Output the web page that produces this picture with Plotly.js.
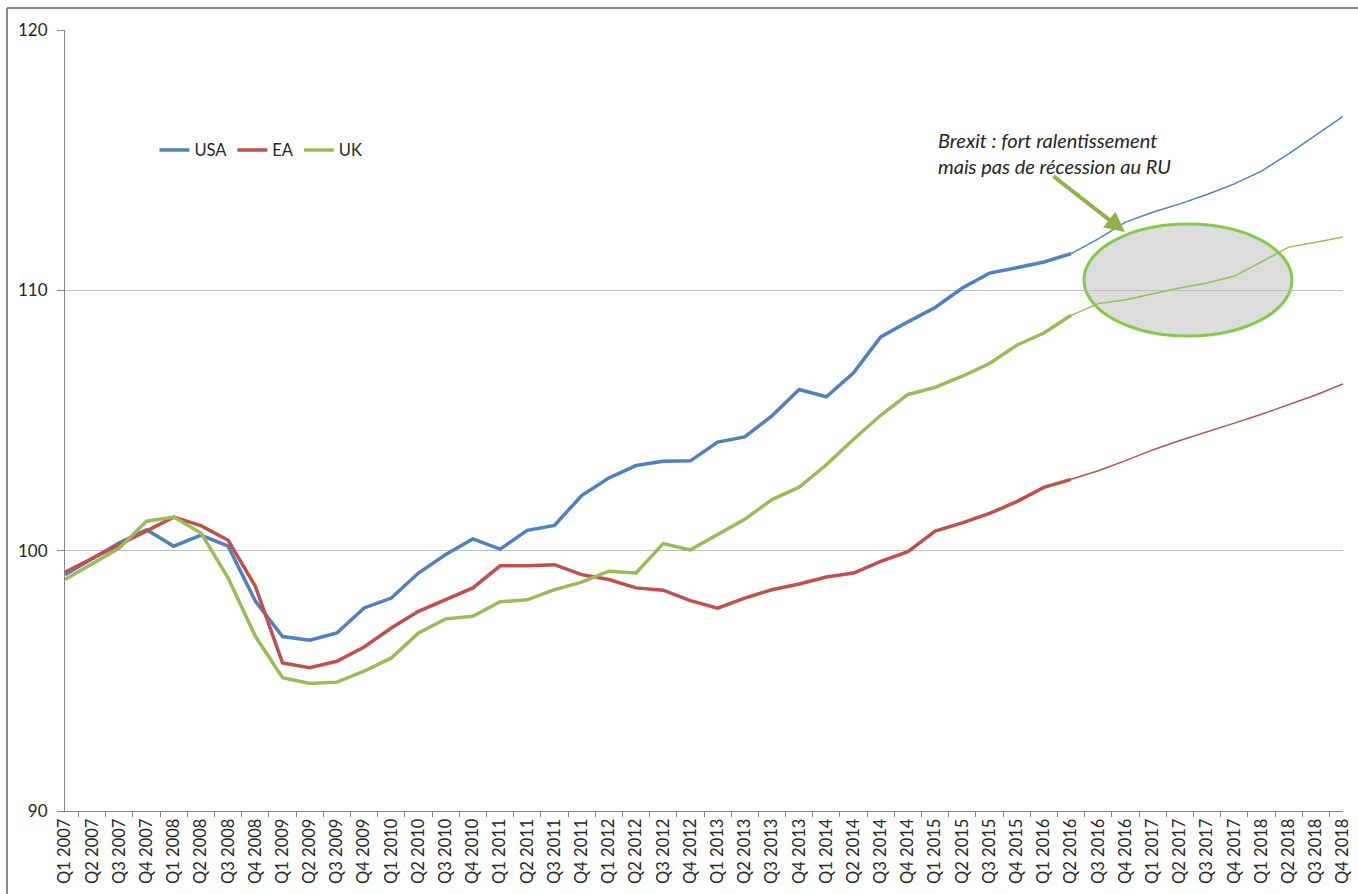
<!DOCTYPE html>
<html>
<head>
<meta charset="utf-8">
<script src="https://cdn.plot.ly/plotly-3.0.1.min.js"></script>
<style>html,body{margin:0;padding:0;background:#fff;}#chart{width:1358px;height:894px;}</style>
</head>
<body>
<div id="chart"></div>
<script>
const quarters = [];
const years = [2007, 2008, 2009, 2010, 2011, 2012, 2013, 2014, 2015, 2016, 2017, 2018];
years.forEach(y => { for (let q = 1; q <= 4; q++) quarters.push('Q' + q + ' ' + y); });

const lastActual = 'Q2 2016';

const usa = [99.08, 99.7, 100.3, 100.8, 100.17, 100.6, 100.17, 98.06, 96.7, 96.56,
  96.84, 97.8, 98.18, 99.14, 99.85, 100.45, 100.06, 100.78, 100.97, 102.12,
  102.79, 103.27, 103.43, 103.45, 104.17, 104.37, 105.18, 106.19, 105.91, 106.83,
  108.21, 108.79, 109.34, 110.09, 110.66, 110.87, 111.09, 111.41,
  111.98, 112.62, 113.0, 113.32, 113.68, 114.09, 114.58, 115.24, 115.95, 116.68];

const ea = [99.17, 99.7, 100.25, 100.77, 101.29, 100.96, 100.4, 98.63, 95.69, 95.5,
  95.75, 96.3, 97.03, 97.67, 98.12, 98.57, 99.42, 99.42, 99.46, 99.08,
  98.89, 98.57, 98.48, 98.08, 97.79, 98.18, 98.5, 98.72, 98.99, 99.14,
  99.59, 99.96, 100.75, 101.07, 101.43, 101.88, 102.43, 102.74,
  103.07, 103.46, 103.87, 104.23, 104.58, 104.9, 105.24, 105.6, 105.98, 106.4];

const uk = [98.89, 99.5, 100.1, 101.13, 101.29, 100.68, 98.95, 96.71, 95.12, 94.9,
  94.95, 95.37, 95.88, 96.84, 97.38, 97.48, 98.04, 98.11, 98.5, 98.79,
  99.21, 99.14, 100.27, 100.03, 100.61, 101.21, 101.96, 102.44, 103.3, 104.28,
  105.2, 106.0, 106.27, 106.7, 107.19, 107.89, 108.36, 109.04,
  109.49, 109.64, 109.87, 110.09, 110.28, 110.54, 111.09, 111.66, 111.85, 112.05];

const seriesNames = ['USA', 'EA', 'UK'];
const seriesColors = ['#4F81BD', '#C0504D', '#9BBB59'];
const seriesData = [usa, ea, uk];

const cut = quarters.indexOf(lastActual);
const traces = [];
seriesData.forEach((vals, k) => {
  traces.push({
    type: 'scatter', mode: 'lines', name: seriesNames[k],
    x: quarters.slice(0, cut + 1), y: vals.slice(0, cut + 1),
    line: {color: seriesColors[k], width: 3.5}
  });
});
seriesData.forEach((vals, k) => {
  traces.push({
    type: 'scatter', mode: 'lines', name: seriesNames[k] + ' prévision', showlegend: false,
    x: quarters.slice(cut), y: vals.slice(cut),
    line: {color: seriesColors[k], width: 1.5}
  });
});

const font = 'Lato, "Open Sans", sans-serif';

const layout = {
  width: 1358, height: 894,
  margin: {l: 65, r: 15, t: 30, b: 83},
  paper_bgcolor: '#ffffff', plot_bgcolor: '#ffffff',
  font: {family: font, size: 16, color: '#262626'},
  showlegend: true,
  legend: {orientation: 'h', x: 0.07, y: 0.846, xanchor: 'left', yanchor: 'middle',
    font: {size: 16.5, color: '#262626'}, bgcolor: 'rgba(0,0,0,0)', itemwidth: 30, tracegroupgap: 0},
  xaxis: {type: 'category', categoryarray: quarters, tickangle: -90,
    showline: true, linecolor: '#868686', linewidth: 1,
    ticks: 'outside', tickson: 'boundaries', ticklen: 5, tickcolor: '#868686',
    showgrid: false, zeroline: false, tickfont: {size: 16.5, color: '#262626'}},
  yaxis: {range: [90, 120], dtick: 10, tick0: 90,
    showline: true, linecolor: '#868686', linewidth: 1,
    ticks: 'outside', ticklen: 7, tickcolor: '#868686', ticklabelstandoff: 6,
    gridcolor: '#bfbfbf', gridwidth: 1.5, zeroline: false,
    tickfont: {size: 17, color: '#262626'}},
  shapes: [
    {type: 'circle', xref: 'paper', yref: 'paper', layer: 'below',
      x0: 0.7973, x1: 0.9601, y0: 0.6082, y1: 0.7516,
      fillcolor: '#dcdcdc', line: {color: '#86c84a', width: 3}},
    {type: 'line', xref: 'paper', yref: 'paper', x0: -0.0454, x1: 1.02, y0: 1.0282, y1: 1.0282,
      line: {color: '#8a8a8a', width: 2}},
    {type: 'line', xref: 'paper', yref: 'paper', x0: -0.0454, x1: -0.0454, y0: -0.12, y1: 1.0282,
      line: {color: '#8a8a8a', width: 2}}
  ],
  annotations: [
    {xref: 'paper', yref: 'paper', x: 0.6815, y: 0.8775, xanchor: 'left', yanchor: 'top',
      align: 'left', showarrow: false,
      text: 'Brexit : fort ralentissement<br>mais pas de récession au RU',
      font: {family: font, size: 20, style: 'italic', color: '#262626'}},
    {xref: 'paper', yref: 'paper', x: 0.8294, y: 0.7413, text: '', showarrow: true,
      ax: -73, ay: -57, arrowcolor: '#8fb04a', arrowwidth: 4, arrowhead: 2, arrowsize: 1}
  ]
};

Plotly.newPlot('chart', traces, layout, {displayModeBar: false, staticPlot: true});
</script>
</body>
</html>
